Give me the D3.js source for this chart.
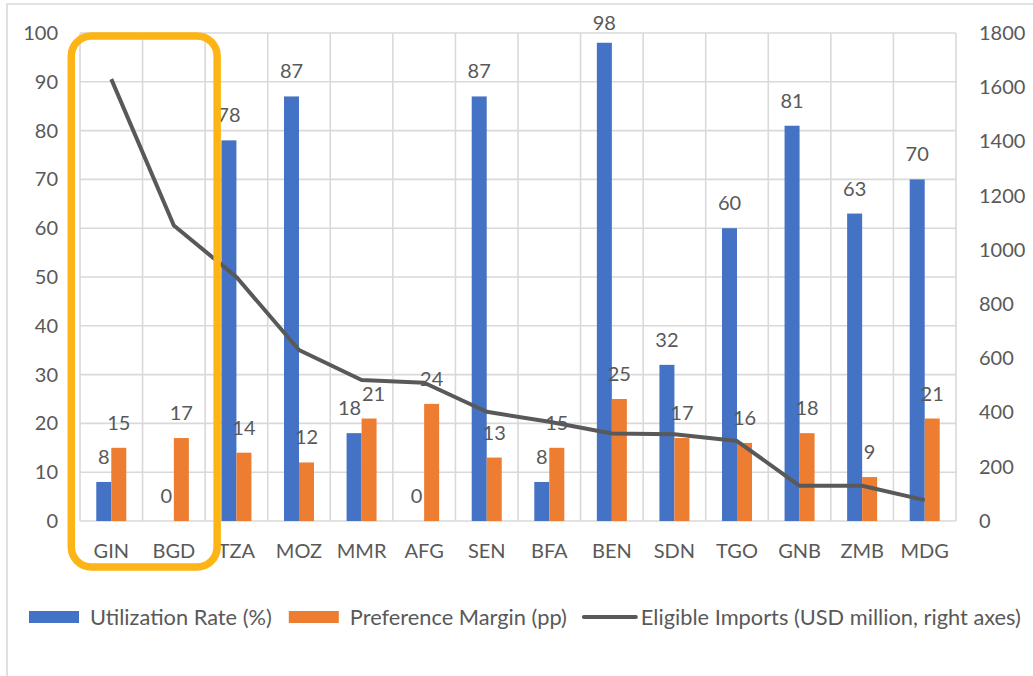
<!DOCTYPE html>
<html>
<head>
<meta charset="utf-8">
<script src="https://cdn.jsdelivr.net/npm/d3@7"></script>
<style>
  html, body { margin: 0; padding: 0; background: #fff; }
  svg { display: block; font-family: Lato, "Open Sans", sans-serif; }
</style>
</head>
<body>
<svg id="chart" width="1033" height="676"></svg>
<script>
// Country codes along the x axis
const countries = ["GIN", "BGD", "TZA", "MOZ", "MMR", "AFG", "SEN", "BFA", "BEN", "SDN", "TGO", "GNB", "ZMB", "MDG"];
// Utilization rate, percent (left axis)
const utilization = [8, 0, 78, 87, 18, 0, 87, 8, 98, 32, 60, 81, 63, 70];
// Preference margin, percentage points (left axis)
const prefMargin = [15, 17, 14, 12, 21, 24, 13, 15, 25, 17, 16, 18, 9, 21];
// Eligible imports, USD million (right axis)
const eligibleImports = [1630, 1090, 900, 631, 520, 510, 403, 366, 323, 320, 295, 130, 130, 77];
// Axis ticks
const leftTicks = [0, 10, 20, 30, 40, 50, 60, 70, 80, 90, 100];
const rightTicks = [0, 200, 400, 600, 800, 1000, 1200, 1400, 1600, 1800];
// Series names for the legend
const seriesNames = ["Utilization Rate (%)", "Preference Margin (pp)", "Eligible Imports (USD million, right axes)"];
// Countries singled out with a highlight frame
const highlighted = ["GIN", "BGD"];

const colors = { util: "#4472C4", pref: "#ED7D31", line: "#595959", grid: "#D9D9D9", text: "#595959", frame: "#FDB515" };

const svg = d3.select("#chart");
const plot = { left: 80, right: 956, top: 33, bottom: 521 };

// Outer chart border (top and left edges)
svg.append("path")
  .attr("d", `M7,676 V4 H1033`)
  .attr("fill", "none")
  .attr("stroke", colors.grid)
  .attr("stroke-width", 1.6);

const x = d3.scaleBand().domain(countries).range([plot.left, plot.right]).padding(0);
const yL = d3.scaleLinear().domain([0, 100]).range([plot.bottom, plot.top]);
const yR = d3.scaleLinear().domain([0, 1800]).range([plot.bottom, plot.top]);
const barW = 15;

// Gridlines
const grid = svg.append("g").attr("stroke", colors.grid).attr("stroke-width", 1.6);
grid.selectAll("line.h").data(leftTicks).join("line")
  .attr("x1", plot.left).attr("x2", plot.right)
  .attr("y1", d => yL(d)).attr("y2", d => yL(d));
const bounds = countries.map(c => x(c)).concat([plot.right]);
grid.selectAll("line.v").data(bounds).join("line")
  .attr("x1", d => d).attr("x2", d => d)
  .attr("y1", plot.top).attr("y2", plot.bottom);

// Left axis
const leftAxis = svg.append("g").attr("transform", `translate(${plot.left - 22},0)`)
  .call(d3.axisLeft(yL).tickValues(leftTicks).tickSize(0).tickPadding(0));
// Right axis
const rightAxis = svg.append("g").attr("transform", `translate(${plot.right + 23},0)`)
  .call(d3.axisRight(yR).tickValues(rightTicks).tickFormat(d3.format("d")).tickSize(0).tickPadding(0));
// Bottom axis
const bottomAxis = svg.append("g").attr("transform", `translate(0,${plot.bottom})`)
  .call(d3.axisBottom(x).tickSize(0).tickPadding(23));
[leftAxis, rightAxis, bottomAxis].forEach(a => {
  a.select(".domain").remove();
  a.selectAll("text").attr("fill", colors.text).style("font-size", "20px").style("font-family", "Lato, sans-serif");
});

// Bars
const bars = svg.append("g");
bars.selectAll("rect.util").data(countries).join("rect")
  .attr("x", c => x(c) + x.bandwidth() / 2 - barW)
  .attr("width", barW)
  .attr("y", (c, i) => yL(utilization[i]))
  .attr("height", (c, i) => plot.bottom - yL(utilization[i]))
  .attr("fill", colors.util);
bars.selectAll("rect.pref").data(countries).join("rect")
  .attr("x", c => x(c) + x.bandwidth() / 2)
  .attr("width", barW)
  .attr("y", (c, i) => yL(prefMargin[i]))
  .attr("height", (c, i) => plot.bottom - yL(prefMargin[i]))
  .attr("fill", colors.pref);

// Eligible imports line
const line = d3.line()
  .x((d, i) => x(countries[i]) + x.bandwidth() / 2)
  .y(d => yR(d));
svg.append("path").datum(eligibleImports)
  .attr("d", line)
  .attr("fill", "none")
  .attr("stroke", colors.line)
  .attr("stroke-width", 4)
  .attr("stroke-linejoin", "round");

// Data labels above the bars; when the two labels of one country sit
// close together vertically, they are spread apart sideways a little
const utilLabelY = utilization.map(v => Math.max(yL(v) - 18, 30));
const prefLabelY = prefMargin.map(v => Math.max(yL(v) - 18, 30));
const spread = utilLabelY.map((y, i) => Math.abs(y - prefLabelY[i]) < 24 ? 4.5 : 0);
const labels = svg.append("g")
  .attr("fill", colors.text)
  .style("font-size", "20px")
  .attr("text-anchor", "middle");
labels.selectAll("text.util").data(countries).join("text")
  .attr("x", (c, i) => x(c) + x.bandwidth() / 2 - barW / 2 - spread[i])
  .attr("y", (c, i) => utilLabelY[i])
  .text((c, i) => d3.format("d")(utilization[i]));
labels.selectAll("text.pref").data(countries).join("text")
  .attr("x", (c, i) => x(c) + x.bandwidth() / 2 + barW / 2 + spread[i])
  .attr("y", (c, i) => prefLabelY[i])
  .text((c, i) => d3.format("d")(prefMargin[i]));

// Highlight frame around selected countries
const hx0 = x(highlighted[0]) - 8.7;
const hx1 = x(highlighted[highlighted.length - 1]) + x.bandwidth() + 12;
svg.append("rect")
  .attr("x", hx0).attr("y", 36)
  .attr("width", hx1 - hx0).attr("height", 567 - 36)
  .attr("rx", 20).attr("ry", 20)
  .attr("fill", "none")
  .attr("stroke", colors.frame)
  .attr("stroke-width", 7.5);

// Legend
const legend = svg.append("g").attr("transform", "translate(0,617)");
let lx = 29;
seriesNames.forEach((name, i) => {
  if (i < 2) {
    legend.append("rect")
      .attr("x", lx).attr("y", -6).attr("width", 50).attr("height", 12)
      .attr("fill", i === 0 ? colors.util : colors.pref);
    lx += 50 + 11;
  } else {
    legend.append("line")
      .attr("x1", lx).attr("x2", lx + 52).attr("y1", 0).attr("y2", 0)
      .attr("stroke", colors.line).attr("stroke-width", 4).attr("stroke-linecap", "round");
    lx += 52 + 5;
  }
  const t = legend.append("text")
    .attr("x", lx).attr("y", 0).attr("dy", "0.35em")
    .attr("fill", colors.text)
    .style("font-size", "21.8px")
    .text(name);
  lx += t.node().getComputedTextLength() + 17;
});
</script>
</body>
</html>
